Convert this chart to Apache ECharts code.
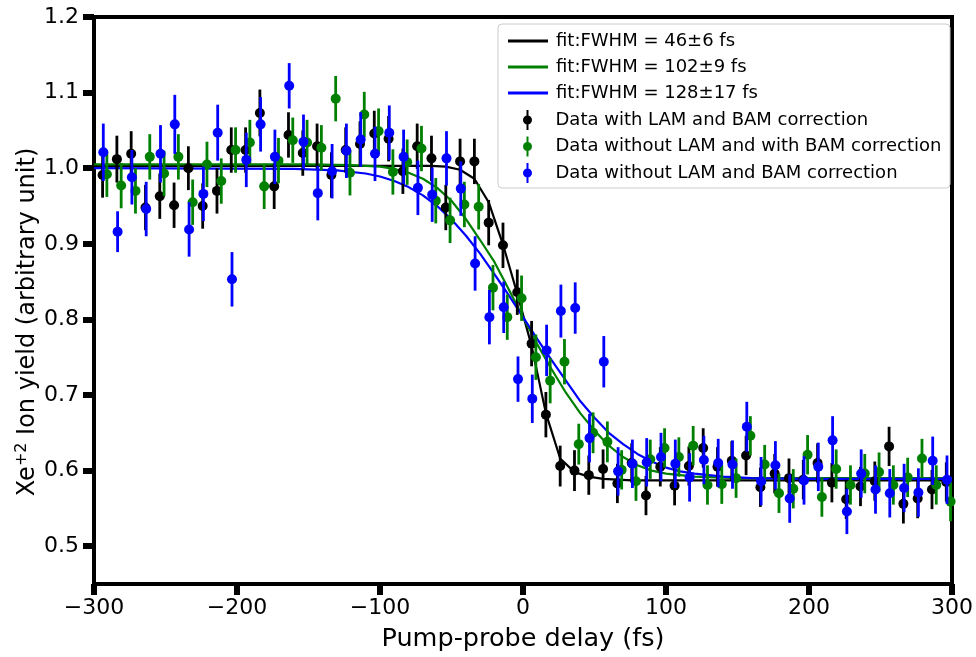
<!DOCTYPE html>
<html>
<head>
<meta charset="utf-8">
<script src="https://cdn.jsdelivr.net/npm/echarts@6/dist/echarts.min.js"></script>
<style>html,body{margin:0;padding:0;background:#fff}#c{width:976px;height:657px}</style>
</head>
<body>
<div id="c"></div>
<script>
// ---- data ----
const xTickValues = [-300, -200, -100, 0, 100, 200, 300];
const yTickValues = [0.5, 0.6, 0.7, 0.8, 0.9, 1.0, 1.1, 1.2];

const blackX = [-294,-284,-274,-264,-254,-244,-234,-224,-214,-204,-194,-184,-174,-164,-154,-144,-134,-124,-114,-104,-94,-84,-74,-64,-54,-44,-34,-24,-14,-4,6,16,26,36,46,56,66,76,86,96,106,116,126,136,146,156,166,176,186,196,206,216,226,236,246,256,266,276,286,296];
const blackY = [0.991,1.012,1.019,0.948,0.963,0.951,1.000,0.950,0.970,1.024,1.024,1.073,0.976,1.044,1.020,1.029,0.991,1.024,1.032,1.046,1.039,0.996,1.029,1.013,0.948,1.009,1.009,0.928,0.898,0.836,0.768,0.674,0.606,0.600,0.594,0.602,0.583,0.610,0.567,0.605,0.580,0.606,0.630,0.605,0.613,0.620,0.578,0.596,0.590,0.588,0.610,0.584,0.562,0.579,0.586,0.632,0.556,0.563,0.575,0.585];
const blackErr = [0.030,0.031,0.030,0.030,0.030,0.030,0.029,0.030,0.030,0.030,0.030,0.031,0.030,0.030,0.030,0.030,0.030,0.030,0.030,0.030,0.030,0.030,0.030,0.030,0.030,0.030,0.030,0.030,0.030,0.030,0.030,0.030,0.027,0.027,0.026,0.026,0.026,0.026,0.026,0.026,0.026,0.026,0.026,0.026,0.026,0.026,0.026,0.026,0.026,0.026,0.026,0.026,0.026,0.026,0.026,0.026,0.026,0.026,0.026,0.026];

const greenX = [-291,-281,-271,-261,-251,-241,-231,-221,-211,-201,-191,-181,-171,-161,-151,-141,-131,-121,-111,-101,-91,-81,-71,-61,-51,-41,-31,-21,-11,-1,9,19,29,39,49,59,69,79,89,99,109,119,129,139,149,159,169,179,189,199,209,219,229,239,249,259,269,279,289,299];
const greenY = [0.992,0.977,0.970,1.015,0.993,1.015,0.955,1.005,0.983,1.024,1.034,0.976,1.010,1.037,1.034,1.027,1.092,0.994,1.071,1.049,0.995,1.008,1.026,0.957,0.931,0.952,0.949,0.842,0.803,0.828,0.750,0.719,0.744,0.635,0.650,0.638,0.601,0.586,0.615,0.630,0.618,0.633,0.581,0.582,0.590,0.646,0.608,0.570,0.576,0.621,0.565,0.602,0.581,0.596,0.598,0.581,0.591,0.616,0.581,0.559];
const greenErr = [0.030,0.030,0.030,0.030,0.030,0.030,0.030,0.030,0.030,0.030,0.030,0.030,0.030,0.030,0.030,0.030,0.030,0.030,0.030,0.030,0.030,0.030,0.030,0.030,0.030,0.030,0.030,0.030,0.030,0.030,0.030,0.030,0.030,0.027,0.027,0.027,0.026,0.026,0.026,0.026,0.026,0.026,0.026,0.026,0.026,0.026,0.026,0.026,0.026,0.026,0.026,0.026,0.026,0.026,0.026,0.026,0.026,0.026,0.026,0.026];

const blueX = [-293.5,-283.5,-273.5,-263.5,-253.5,-243.5,-233.5,-223.5,-213.5,-203.5,-193.5,-183.5,-173.5,-163.5,-153.5,-143.5,-133.5,-123.5,-113.5,-103.5,-93.5,-83.5,-73.5,-63.5,-53.5,-43.5,-33.5,-23.5,-13.5,-3.5,6.5,16.5,26.5,36.5,46.5,56.5,66.5,76.5,86.5,96.5,106.5,116.5,126.5,136.5,146.5,156.5,166.5,176.5,186.5,196.5,206.5,216.5,226.5,236.5,246.5,256.5,266.5,276.5,286.5,296.5];
const blueY = [1.021,0.916,0.988,0.946,1.019,1.058,0.919,0.966,1.047,0.853,1.011,1.058,1.015,1.109,1.035,0.967,0.996,1.023,1.038,1.019,1.047,1.015,0.974,0.965,1.013,0.973,0.874,0.803,0.816,0.721,0.695,0.759,0.811,0.815,0.643,0.744,0.599,0.609,0.611,0.618,0.609,0.591,0.614,0.610,0.608,0.658,0.586,0.607,0.563,0.587,0.605,0.640,0.546,0.596,0.575,0.570,0.577,0.571,0.613,0.588];
const blueErr = [0.038,0.027,0.036,0.036,0.038,0.039,0.036,0.036,0.037,0.036,0.036,0.036,0.036,0.030,0.036,0.036,0.036,0.036,0.036,0.036,0.036,0.036,0.036,0.036,0.036,0.036,0.036,0.036,0.034,0.030,0.032,0.034,0.035,0.034,0.032,0.034,0.032,0.032,0.032,0.032,0.032,0.032,0.032,0.032,0.032,0.033,0.032,0.032,0.032,0.032,0.032,0.032,0.030,0.032,0.032,0.032,0.032,0.032,0.032,0.032];

const fitBlackX = [-300,-64,-54,-44,-34,-24,-14,-4,6,16,26,36,46,56,66,76,300];
const fitBlackY = [1.003,1.003,1.002,0.998,0.986,0.955,0.899,0.834,0.765,0.676,0.616,0.598,0.592,0.589,0.588,0.587,0.587];
const fitGreenX = [-300,-150,-120,-100,-90,-80,-70,-60,-50,-40,-30,-20,-10,0,10,20,30,40,50,60,70,80,90,100,120,150,300];
const fitGreenY = [1.005,1.005,1.004,1.002,0.999,0.994,0.986,0.974,0.957,0.933,0.905,0.876,0.840,0.803,0.767,0.734,0.703,0.676,0.653,0.633,0.618,0.607,0.600,0.596,0.592,0.590,0.590];
const fitBlueX = [-300,-160,-130,-110,-100,-90,-80,-70,-60,-50,-40,-30,-20,-10,0,10,20,30,40,50,60,70,80,90,100,110,120,140,160,200,300];
const fitBlueY = [1.000,0.999,0.997,0.993,0.989,0.983,0.975,0.964,0.950,0.932,0.911,0.887,0.860,0.832,0.803,0.774,0.746,0.719,0.692,0.670,0.650,0.635,0.622,0.612,0.604,0.599,0.596,0.592,0.590,0.589,0.589];

const names = {
  fitBlack: 'fit:FWHM = 46±6 fs',
  fitGreen: 'fit:FWHM = 102±9 fs',
  fitBlue: 'fit:FWHM = 128±17 fs',
  dBlack: 'Data with LAM and BAM correction',
  dGreen: 'Data without LAM and with BAM correction',
  dBlue: 'Data without LAM and BAM correction'
};
const C = {black: '#000000', green: '#008000', blue: '#0000ff'};
const FONT = 'DejaVu Sans';

function zip(xs, ys) { return xs.map((x, i) => [x, ys[i]]); }
function zip3(xs, ys, es) { return xs.map((x, i) => [x, ys[i], es[i]]); }

function errSeries(name, color, data, z) {
  return {
    type: 'custom', name: name, data: data, z: z, clip: true,
    itemStyle: {color: color},
    encode: {x: 0, y: 1},
    renderItem: function (params, api) {
      const x = api.value(0), y = api.value(1), e = api.value(2);
      const p1 = api.coord([x, y - e]);
      const p2 = api.coord([x, y + e]);
      return {type: 'line', shape: {x1: p1[0], y1: p1[1], x2: p2[0], y2: p2[1]},
        style: {stroke: color, lineWidth: 2.8}};
    }
  };
}
function ptSeries(name, color, data, z) {
  return {type: 'scatter', name: name, data: data, z: z, symbol: 'circle', symbolSize: 10,
    itemStyle: {color: color, opacity: 1}, clip: true};
}
function fitSeries(name, color, data) {
  return {type: 'line', name: name, data: data, z: 1, showSymbol: false, symbol: 'none', smooth: false,
    lineStyle: {color: color, width: 2.2}, itemStyle: {color: color}};
}

const dataIcon = 'path://M4,0 H6 V20 H4 Z M5,5.5 A4.5,4.5 0 1,1 5,14.5 A4.5,4.5 0 1,1 5,5.5 Z';

const chart = echarts.init(document.getElementById('c'), null, {renderer: 'canvas'});
chart.setOption({
  animation: false,
  backgroundColor: '#ffffff',
  grid: {left: 94, right: 22, top: 17, bottom: 69, show: true, borderColor: '#000', borderWidth: 4, backgroundColor: 'transparent'},
  xAxis: {
    type: 'value', min: -300, max: 300, interval: 100,
    name: 'Pump-probe delay (fs)', nameLocation: 'middle', nameGap: 42,
    nameTextStyle: {fontFamily: FONT, fontSize: 25.5, color: '#000'},
    axisLine: {show: true, onZero: false, lineStyle: {color: '#000', width: 4}},
    axisTick: {show: true, length: 11, lineStyle: {color: '#000', width: 6}, customValues: xTickValues},
    axisLabel: {fontFamily: FONT, fontSize: 22, color: '#000', margin: 13, customValues: xTickValues,
      formatter: v => String(v).replace('-', '\u2212')},
    splitLine: {show: false}
  },
  yAxis: {
    type: 'value', min: 0.45, max: 1.2,
    axisLine: {show: true, onZero: false, lineStyle: {color: '#000', width: 4}},
    axisTick: {show: true, length: 11, lineStyle: {color: '#000', width: 6}, customValues: yTickValues},
    axisLabel: {fontFamily: FONT, fontSize: 22, color: '#000', margin: 15, customValues: yTickValues,
      formatter: v => Number(v).toFixed(1)},
    splitLine: {show: false}
  },
  graphic: [
    {
      type: 'text', x: 28, y: 322, rotation: Math.PI / 2, silent: true, z: 10,
      style: {
        text: 'Xe{sup|+2} Ion yield (arbitrary unit)',
        fontFamily: FONT, fontSize: 24, fill: '#000', align: 'center', verticalAlign: 'middle',
        rich: {sup: {fontFamily: FONT, fontSize: 16, fill: '#000', padding: [0, 0, 13, 0]}}
      }
    },
    {
      type: 'rect', z: 50, silent: true,
      shape: {x: 498, y: 24, width: 452, height: 164, r: 4},
      style: {fill: 'rgba(255,255,255,0.8)', stroke: '#cccccc', lineWidth: 1}
    }
  ],
  legend: [
    {
      z: 60, orient: 'vertical', left: 503, top: 26, itemWidth: 40, itemHeight: 3, itemGap: 6,
      selectedMode: false,
      data: [names.fitBlack, names.fitGreen, names.fitBlue].map(n => ({name: n, icon: 'rect'})),
      textStyle: {fontFamily: FONT, fontSize: 18, color: '#000', lineHeight: 20, padding: [0, 0, 0, 3]}
    },
    {
      z: 60, orient: 'vertical', left: 518, top: 105, itemWidth: 10, itemHeight: 20, itemGap: 6.5,
      selectedMode: false,
      data: [names.dBlack, names.dGreen, names.dBlue].map(n => ({name: n, icon: dataIcon})),
      textStyle: {fontFamily: FONT, fontSize: 18, color: '#000', lineHeight: 20, padding: [0, 0, 0, 18]}
    }
  ],
  series: [
    fitSeries(names.fitBlack, C.black, zip(fitBlackX, fitBlackY)),
    fitSeries(names.fitGreen, C.green, zip(fitGreenX, fitGreenY)),
    fitSeries(names.fitBlue, C.blue, zip(fitBlueX, fitBlueY)),
    errSeries(names.dBlack, C.black, zip3(blackX, blackY, blackErr), 3),
    ptSeries(names.dBlack, C.black, zip(blackX, blackY), 3),
    errSeries(names.dGreen, C.green, zip3(greenX, greenY, greenErr), 4),
    ptSeries(names.dGreen, C.green, zip(greenX, greenY), 4),
    errSeries(names.dBlue, C.blue, zip3(blueX, blueY, blueErr), 5),
    ptSeries(names.dBlue, C.blue, zip(blueX, blueY), 5)
  ]
});
</script>
</body>
</html>
